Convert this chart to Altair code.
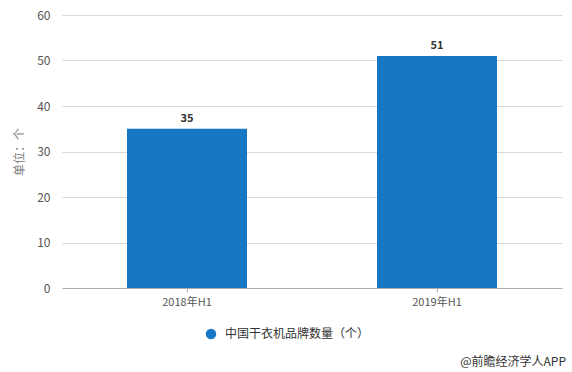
import altair as alt
import pandas as pd

categories = ["2018年H1", "2019年H1"]
values = [35, 51]
series_name = "中国干衣机品牌数量（个）"
y_ticks = [0, 10, 20, 30, 40, 50, 60]

df = pd.DataFrame({"cat": categories, "val": values, "series": [series_name] * len(categories)})

FONT = "Noto Sans CJK SC"
BLUE = "#1777c4"

base = alt.Chart(df).encode(
    x=alt.X("cat:N", sort=categories, title=None,
            scale=alt.Scale(paddingInner=0.52, paddingOuter=0.26),
            axis=alt.Axis(labelAngle=0, labelFont=FONT, labelFontSize=11, labelColor="#555555",
                          domainColor="#aaaaaa", tickColor="#aaaaaa", tickSize=4, labelPadding=4,
                          grid=False)),
)

bars = base.mark_bar(color=BLUE).encode(
    y=alt.Y("val:Q", title="单位：个", scale=alt.Scale(domain=[0, 60]),
            axis=alt.Axis(values=y_ticks, labelFont=FONT, labelFontSize=12, labelColor="#555555",
                          titleFont=FONT, titleFontSize=12, titleColor="#808080", titleFontWeight="normal",
                          titlePadding=10, domain=False, ticks=False, labelPadding=12,
                          gridColor="#d9d9d9")),
    color=alt.Color("series:N", scale=alt.Scale(range=[BLUE]),
                    legend=alt.Legend(title=None, orient="none", legendX=143, legendY=313,
                                      symbolType="circle", symbolSize=110, symbolStrokeWidth=0,
                                      labelFont=FONT, labelFontSize=12, labelColor="#333333",
                                      labelOffset=8)),
)

labels = base.mark_text(dy=-10, font=FONT, fontSize=11, fontWeight="bold", color="#333333").encode(
    y="val:Q", text="val:Q"
)

source = alt.Chart(pd.DataFrame({"t": ["@前瞻经济学人APP"]})).mark_text(
    align="right", baseline="middle", font=FONT, fontSize=12, color="#333333"
).encode(x=alt.value(504), y=alt.value(347), text="t:N")

chart = alt.layer(bars, labels, source).properties(
    width=500, height=273,
    autosize=alt.AutoSizeParams(type="none"),
    padding={"left": 62, "top": 15, "right": 10, "bottom": 84},
    background="white",
).configure_view(stroke=None)

chart.save("out.html", embed_options={"renderer": "svg", "actions": False})
